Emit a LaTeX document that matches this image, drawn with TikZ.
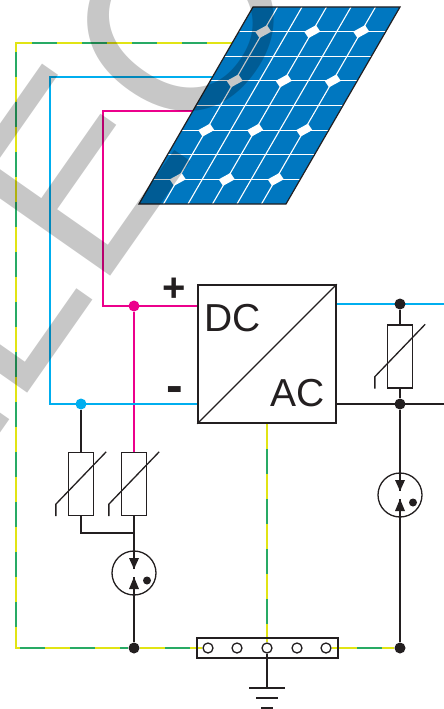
\documentclass[tikz,border=0pt]{standalone}
\usepackage{fontspec}
\setmainfont{Liberation Sans}
\usetikzlibrary{calc}

\definecolor{pvblue}{RGB}{0,119,192}
\definecolor{wirecyan}{RGB}{0,174,239}
\definecolor{wiremag}{RGB}{236,0,140}
\definecolor{pegreen}{RGB}{40,170,100}
\definecolor{peyellow}{RGB}{225,228,20}
\definecolor{ink}{RGB}{35,31,32}

\pgfdeclarelayer{bg}
\pgfdeclarelayer{wires}
\pgfsetlayers{bg,wires,main}

% arrow pair and dot inside a spark gap
\newcommand\gapmarks[1]{%
  \fill[ink] ($(#1)+(-5,-15)$) -- ($(#1)+(5,-15)$) -- ($(#1)+(0,-4)$) -- cycle;
  \fill[ink] ($(#1)+(-5,16)$) -- ($(#1)+(5,16)$) -- ($(#1)+(0,4)$) -- cycle;
  \fill[ink] ($(#1)+(13,7.5)$) circle[radius=4];
}
% voltage-dependent slash across a varistor
\newcommand\vslash[1]{%
  \draw[wire] ($(#1.south west)+(-12,0)$) -- ++(0,-12) -- ($(#1.north east)+(12,0)$);
}

\begin{document}
\begin{tikzpicture}[x=1pt,y=-1pt,
  wire/.style={draw=ink, line width=1.3pt},
  cyanwire/.style={draw=wirecyan, line width=1.5pt},
  magwire/.style={draw=wiremag, line width=1.5pt},
  pewire/.style={draw=pegreen, line width=1.8pt,
    postaction={draw=peyellow, line width=1.8pt, dash pattern=on 25pt off 25pt}},
  joint/.style={circle, fill=#1, inner sep=0pt, minimum size=11pt},
  varistor/.style={draw=ink, line width=1.3pt, fill=white, minimum width=25pt,
    minimum height=63pt, inner sep=0pt},
  gap/.style={circle, draw=ink, line width=1.3pt, minimum size=44pt, inner sep=0pt},
  term/.style={circle, draw=ink, line width=1.3pt, fill=white, minimum size=10pt, inner sep=0pt},
  label/.style={inner sep=0pt, text=ink},
]
\useasboundingbox (0,0) rectangle (444,709);
\begin{pgfonlayer}{bg}
  \fill[white] (0,0) rectangle (444,709);
\end{pgfonlayer}
\clip (0,0) rectangle (444,709);

% ---- PV module ----
\begin{scope}[shift={(253,7)}, xslant=0.5787]
  \fill[pvblue] (0,0) -- (147,0) -- (147,197) -- (0,197) -- cycle;
  \foreach \j in {1,...,7}
    \draw[white, line width=1.1pt] (0,24.625*\j) -- (147,24.625*\j);
  \foreach \i in {1,...,5}
    \draw[white, line width=1.1pt] (24.5*\i,0) -- (24.5*\i,197);
  \foreach \i in {1,3,5}
    \foreach \j in {1,3,5,7}
      \fill[white] (24.5*\i,24.625*\j) +(-8,0) -- +(0,-6.5) -- +(8,0) -- +(0,6.5) -- cycle;
  \draw[ink, line width=1.2pt, line join=miter] (0,0) -- (147,0) -- (147,197) -- (0,197) -- cycle;
\end{scope}

% ---- inverter ----
\node[draw=ink, line width=1.5pt, fill=white, minimum size=138pt, inner sep=0pt] (inv) at (267,354) {};
\draw[wire] (inv.south west) -- (inv.north east);
\node[label, anchor=base west, font=\fontsize{39}{39}\selectfont] (dc) at (204,331) {DC};
\node[label, anchor=base east, font=\fontsize{39}{39}\selectfont] (ac) at (325,406) {AC};
\node[label, font=\bfseries\fontsize{40}{40}\selectfont] (plus) at (174,290) {+};
\node[label, font=\bfseries\fontsize{50}{50}\selectfont] (minus) at (175,395) {-};

% ---- surge protection, DC side ----
\node[varistor] (v1) at (81,484) {};
\node[varistor] (v2) at (134,484) {};
\vslash{v1}
\vslash{v2}
\node[gap] (sg1) at (134,573) {};
\gapmarks{sg1}
\coordinate (sg1in) at ($(sg1)+(0,-4)$);
\coordinate (sg1out) at ($(sg1)+(0,4)$);
\coordinate (jB) at (134,533);

% ---- surge protection, AC side ----
\node[varistor] (v3) at (400,356.5) {};
\vslash{v3}
\node[gap] (sg2) at (400,495) {};
\gapmarks{sg2}
\coordinate (sg2in) at ($(sg2)+(0,-4)$);
\coordinate (sg2out) at ($(sg2)+(0,4)$);

% ---- earthing bar ----
\node[draw=ink, line width=1.3pt, minimum width=141pt, minimum height=20pt, inner sep=0pt] (bar) at (267.5,648) {};
\foreach \k/\xx in {1/208,2/237,3/267,4/297,5/326}
  \node[term] (t\k) at (\xx,648) {};
\coordinate (gnd) at (267,688);
\draw[wire] (t3.south) -- (gnd);
\draw[wire] (249,688) -- (285,688);
\draw[wire] (256,698) -- (278,698);
\draw[wire] (261,708) -- (273,708);

% ---- junctions ----
\node[joint=wiremag] (jM) at (134,306) {};
\node[joint=wirecyan] (jC) at (81,404) {};
\node[joint=ink] (jR1) at (400,304) {};
\node[joint=ink] (jR2) at (400,404) {};
\node[joint=ink] (jL) at (134,648) {};
\node[joint=ink] (jR3) at (400,648) {};

% free wire ends
\coordinate (mEnd) at (193,111);
\coordinate (cEnd) at (212,77);
\coordinate (peEnd) at (232,43);
\coordinate (acL) at (446,304);
\coordinate (acN) at (446,404);

\begin{pgfonlayer}{wires}
  % DC plus
  \draw[magwire] (mEnd) -- (103,111) -- (103,306) -- (inv.west |- jM);
  \draw[magwire] (jM) -- (v2.north);
  % DC minus
  \draw[cyanwire] (cEnd) -- (50,77) -- (50,404) -- (inv.west |- jC);
  \draw[wire] (jC) -- (v1.north);
  % DC side arrester
  \draw[wire] (v1.south) -- (v1.south |- jB) -- (jB);
  \draw[wire] (v2.south) -- (sg1in);
  \draw[wire] (sg1out) -- (jL);
  % AC side
  \draw[cyanwire] (inv.east |- jR1) -- (acL);
  \draw[wire] (inv.east |- jR2) -- (acN);
  \draw[wire] (jR1) -- (v3.north);
  \draw[wire] (v3.south) -- (jR2);
  \draw[wire] (jR2) -- (sg2in);
  \draw[wire] (sg2out) -- (jR3);
  % protective earth
  \draw[pewire] (peEnd) -- (16,43) -- (16,648) -- (jL);
  \draw[pewire] (jL) -- (t1.west);
  \draw[pewire] (t5.east) -- (jR3);
  \draw[pewire] (inv.south) -- (t3.north);
\end{pgfonlayer}

% ---- watermark lettering ----
\node[rotate=55, anchor=base west, inner sep=0pt, text=black, opacity=0.22,
  font=\fontsize{258}{258}\selectfont] (wm) at (-83,552) {ELEO};
\end{tikzpicture}
\end{document}
